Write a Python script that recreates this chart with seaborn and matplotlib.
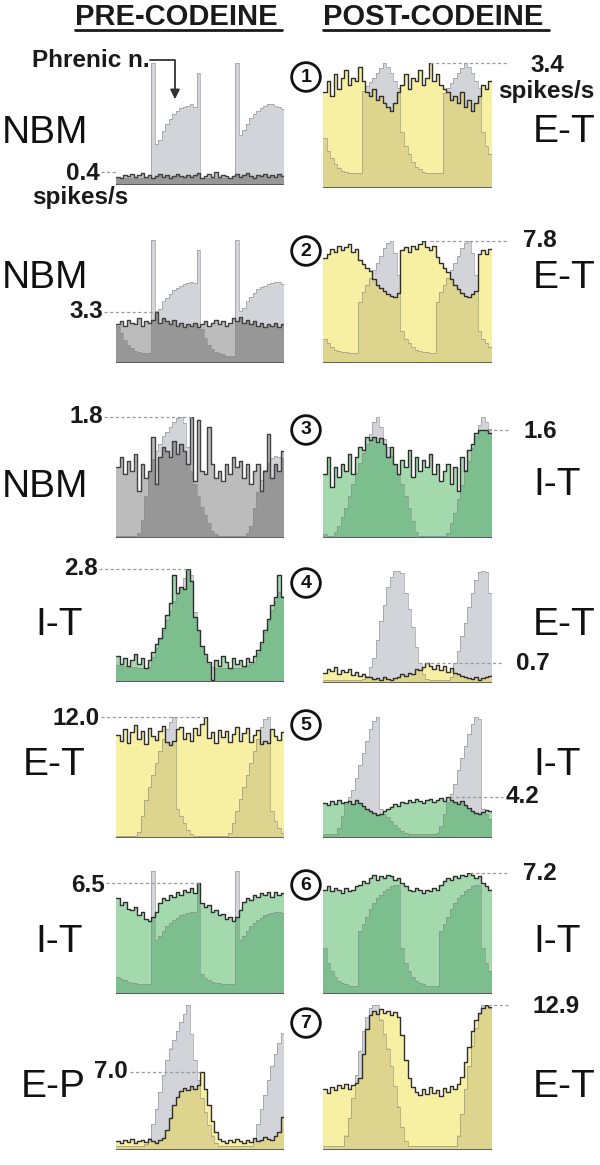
import numpy as np
import pandas as pd
import seaborn as sns
import matplotlib.pyplot as plt
from matplotlib.lines import Line2D

sns.set_theme(style="white")
plt.rcParams["font.family"] = ["Liberation Sans", "DejaVu Sans"]

W, H = 600, 1165
NBINS = 48

# cycle-triggered histograms, 48 bins each
# unit = neuron rate (spikes/s), phr = phrenic envelope (% of panel height)
pre1_unit = [0.25, 0.22, 0.3, 0.27, 0.33, 0.24, 0.3, 0.36, 0.26, 0.31, 0.22, 0.28,
             0.34, 0.25, 0.3, 0.21, 0.27, 0.35, 0.29, 0.24, 0.32, 0.26, 0.3, 0.37,
             0.23, 0.28, 0.33, 0.26, 0.4, 0.24, 0.31, 0.27, 0.22, 0.29, 0.34, 0.25,
             0.3, 0.36, 0.27, 0.23, 0.31, 0.28, 0.35, 0.26, 0.3, 0.24, 0.33, 0.29]
pre1_phr = [6, 6, 6, 6, 6, 6, 6, 6, 6, 6, 100,
            34, 37, 44, 50, 54, 58, 61, 63, 64, 65, 66, 64, 92,
            6, 6, 6, 6, 6, 6, 6, 6, 6, 6, 100,
            41, 45, 50, 55, 58, 61, 63, 65, 66, 66, 65, 64, 62]

post1_unit = [2.6, 2.9, 2.5, 3.1, 2.7, 3.0, 3.2, 2.8, 3.0, 2.9, 3.3,
              2.9, 2.6, 2.5, 2.7, 2.4, 2.5, 2.3, 2.2, 2.1, 2.3, 2.6,
              2.8, 3.1, 2.7, 3.0, 2.9, 3.2, 2.8, 3.0, 3.4, 2.9, 3.1, 2.8, 2.7,
              2.6, 2.4, 2.5, 2.3, 2.6, 2.2, 2.4, 2.1, 2.3, 2.5,
              2.8, 2.7, 2.9]
post1_phr = [40, 30, 24, 19, 16, 14, 13, 12, 12, 12, 12,
             78, 82, 85, 88, 92, 96, 100, 97, 92, 86, 80,
             45, 34, 27, 21, 17, 15, 13, 12, 12, 12, 12, 12,
             76, 80, 84, 88, 92, 96, 100, 97, 92, 86, 80,
             45, 34, 27]

pre2_unit = [2.5, 2.7, 2.4, 2.8, 2.6, 2.5, 2.9, 2.4, 2.7, 2.6, 2.8, 3.3,
             2.6, 2.9, 2.7, 2.5, 2.8, 2.4, 2.6, 2.3, 2.5, 2.4, 2.6, 2.3,
             2.5, 2.7, 2.4, 2.6, 2.8, 2.5, 2.7, 2.4, 2.6, 2.9, 2.7, 3.0,
             2.6, 2.8, 2.5, 2.7, 2.4, 2.6, 2.3, 2.5, 2.4, 2.6, 2.3, 2.5]
pre2_phr = [30, 24, 19, 15, 12, 10, 9, 8, 8, 8, 100,
            42, 44, 50, 53, 56, 59, 61, 63, 64, 65, 66, 65, 92,
            28, 20, 15, 11, 9, 8, 7, 6, 6, 6, 100,
            42, 45, 50, 54, 57, 60, 62, 63, 64, 65, 66, 66, 64]

post2_unit = [6.7, 7.0, 7.3, 7.1, 7.5, 7.2, 7.4, 7.6, 7.1, 7.3,
              6.6, 6.3, 6.1, 5.9, 5.4, 5.0, 4.8, 4.6, 4.4, 4.3, 4.2, 4.5,
              7.2, 7.4, 7.1, 7.5, 7.3, 7.6, 7.8, 7.4, 7.2, 7.5,
              6.8, 6.4, 6.1, 5.8, 5.4, 5.0, 4.7, 4.5, 4.3, 4.2, 4.4, 4.6,
              7.0, 7.2, 7.0, 7.3]
post2_phr = [20, 16, 13, 11, 10, 9, 9, 8, 8, 8,
             50, 58, 64, 70, 76, 82, 88, 94, 98, 100, 90, 72,
             26, 20, 16, 13, 11, 10, 9, 9, 8, 8,
             50, 58, 64, 70, 76, 82, 88, 94, 98, 100, 90, 72,
             26, 20, 16, 13]

pre3_unit = [1.05, 1.2, 0.95, 1.15, 1.0, 1.25, 0.7, 1.1, 0.9, 1.0, 1.5, 0.8,
             1.2, 1.35, 1.3, 1.2, 1.45, 1.25, 1.4, 1.3, 1.1, 1.8, 0.85, 1.75,
             1.0, 0.95, 1.65, 1.1, 0.9, 1.0, 0.85, 1.1, 0.95, 1.2, 1.05, 1.15,
             0.9, 1.1, 0.8, 1.0, 1.1, 0.7, 1.0, 1.55, 0.9, 1.1, 1.0, 1.3]
pre3_phr = [2, 2, 2, 2, 2, 2, 4,
            15, 35, 55, 65, 72, 78, 84, 88, 92, 96, 99, 100, 95,
            75, 55, 45, 35, 26, 19, 12, 6, 3,
            2, 2, 2, 2, 2, 2, 2, 2, 4,
            10, 25, 38, 48, 56, 62, 66, 68, 67, 66]

post3_unit = [0.95, 1.2, 0.75, 1.05, 0.9, 1.1, 1.0, 1.25, 0.95, 1.2,
              1.35, 1.3, 1.5, 1.45, 1.5, 1.42, 1.48, 1.4,
              1.2, 1.35, 1.1, 0.95, 1.15, 1.05, 1.3, 0.9, 1.2, 1.0, 1.15, 1.05,
              1.25, 0.95, 1.1, 0.85,
              1.0, 1.1, 0.8, 1.05, 0.7, 1.2, 1.0, 1.3,
              1.4, 1.55, 1.6, 1.6, 1.6, 1.55]
post3_phr = [3, 2, 2,
             5, 10, 17, 25, 35, 45, 54, 62, 70, 78, 86,
             96, 100, 92,
             82, 75, 68, 60, 52, 45, 35, 25, 14, 5,
             2, 2, 2, 2, 2, 2, 2, 2, 4,
             12, 21, 32, 44, 56, 64, 74, 84, 93, 100, 96, 90]

pre4_unit = [0.65, 0.45, 0.6, 0.4, 0.55, 0.7, 0.45, 0.6, 0.35, 0.55,
             0.75, 0.95, 1.1, 1.35, 1.65, 1.95, 2.65, 2.2, 2.35, 2.3, 2.8, 2.5,
             1.6, 1.3, 0.9, 0.7, 0.5, 0.05,
             0.55, 0.4, 0.65, 0.5, 0.35, 0.6, 0.45, 0.55, 0.4, 0.6, 0.5, 0.65,
             0.8, 1.0, 1.3, 1.55, 1.9, 2.1, 2.65, 2.1]
pre4_phr = [15, 14, 14, 13, 13, 13, 12, 12, 12, 13,
            22, 30, 38, 46, 55, 63, 72, 78, 84, 92, 100, 95,
            62, 46, 32, 22, 16, 13,
            12, 12, 12, 12, 12, 12, 12, 12, 13, 14, 16, 18,
            26, 34, 44, 54, 64, 72, 80, 76]

post4_unit = [0.35, 0.5, 0.42, 0.55, 0.3, 0.45, 0.38, 0.5, 0.28, 0.4,
              0.25, 0.3, 0.2, 0.22, 0.15, 0.18, 0.12, 0.2, 0.15, 0.1, 0.18,
              0.2, 0.3, 0.25, 0.35, 0.3, 0.5, 0.45,
              0.55, 0.7, 0.6, 0.5, 0.62, 0.45, 0.58, 0.4, 0.52, 0.35, 0.3, 0.25, 0.2,
              0.18, 0.15, 0.2, 0.12, 0.18, 0.22, 0.25]
post4_phr = [3, 3, 3, 3, 3, 3, 3, 3, 3, 3, 3, 4, 6,
             14, 22, 38, 55, 70, 86, 95, 100, 100, 98,
             80, 66, 50, 32, 18, 8,
             4, 3, 3, 3, 3, 3, 3, 5,
             18, 29, 42, 54, 68, 80, 92, 99, 100, 99, 80]

pre5_unit = [10.2, 9.6, 10.8, 9.4, 10.5, 11.2, 9.8, 10.6, 9.3, 10.9, 10.1, 9.7,
             10.6, 11.1, 9.5, 9.2, 9.6, 10.8, 11.0, 9.8, 10.4, 9.6, 10.9, 10.2,
             11.3, 12.0, 9.9, 10.5, 9.4, 10.7, 10.0, 10.6, 9.5, 10.3, 11.0, 9.6,
             10.4, 10.9, 9.5, 10.2, 10.7, 9.3, 9.6, 9.4, 10.8, 10.1, 9.7, 10.5]
pre5_phr = [2, 2, 2, 2, 2, 2,
            5, 18, 31, 42, 52, 62, 72, 82, 90, 96, 100,
            24, 18, 12, 7, 3,
            2, 2, 2, 2, 2, 2, 2, 2, 2, 2, 4,
            12, 22, 32, 42, 52, 62, 72, 82, 92, 98, 100,
            22, 14, 8, 4]

post5_unit = [3.6, 3.4, 3.8, 3.5, 3.9, 3.6, 3.7,
              3.8, 3.5, 3.9, 3.6, 3.3, 3.0, 2.8, 2.6, 2.4,
              2.5, 2.8, 3.0, 3.2, 3.5, 3.3, 3.7,
              3.6, 3.9, 3.7, 4.0, 3.8, 3.6, 3.9, 4.0, 3.7, 3.9, 4.1, 3.8, 4.2, 3.9,
              3.7, 3.5, 3.8, 3.4, 3.1, 2.8, 2.6, 2.5,
              2.7, 2.9, 2.8]
post5_phr = [3, 3, 3, 3,
             8, 18, 28, 34, 40, 50, 60, 70, 80, 90, 97, 100,
             24, 20, 17, 14, 11, 8, 6, 4, 3, 3,
             3, 3, 3, 3, 3, 3, 4,
             10, 20, 30, 36, 45, 56, 66, 76, 86, 94, 100, 98,
             24, 20, 16]

pre6_unit = [5.6, 5.2, 5.4, 5.0, 4.9, 5.1, 4.6, 4.8, 4.4, 4.3,
             4.5, 4.8, 5.3, 5.6, 5.5, 5.8, 5.7, 6.0, 5.8, 6.1, 6.0, 6.2, 5.9,
             6.5,
             5.3, 5.1, 5.2, 4.8, 4.9, 4.6, 4.7, 4.4, 4.5, 4.3,
             4.5, 4.9, 5.4, 5.6, 5.5, 5.8, 5.7, 5.9, 5.8, 6.0, 5.7, 6.0, 5.8, 5.9]
pre6_phr = [14, 12, 11, 10, 9, 9, 8, 8, 8, 8, 100,
            44, 47, 51, 55, 58, 60, 62, 64, 65, 66, 67, 67, 90,
            16, 13, 11, 10, 9, 9, 8, 8, 8, 8, 100,
            44, 47, 51, 55, 58, 60, 62, 64, 65, 66, 67, 67, 66]

post6_unit = [6.2, 6.4, 6.1, 6.3, 6.2, 6.0, 6.3, 6.1, 6.2, 6.4,
              6.5, 6.7, 6.6, 6.9, 7.1, 6.8, 7.0, 6.9, 7.1, 7.0, 6.8, 6.9,
              6.6, 6.4, 6.2, 6.1, 6.3, 6.2, 6.0, 6.2, 6.1, 6.3, 6.2,
              6.5, 6.7, 6.9, 6.8, 7.0, 6.9, 7.1, 7.0, 7.2, 7.1, 6.9, 7.0,
              6.6, 6.4, 6.2]
post6_phr = [38, 26, 19, 14, 11, 9, 8, 7, 7, 7,
             52, 58, 64, 70, 75, 79, 82, 85, 87, 89, 90, 90,
             38, 26, 19, 14, 11, 9, 8, 7, 7, 7, 7,
             52, 58, 64, 70, 75, 79, 82, 85, 87, 89, 90, 90,
             38, 26, 19]

pre7_unit = [0.8, 0.6, 0.9, 0.7, 1.0, 0.6, 0.8, 0.9, 0.7, 1.0, 0.8, 0.6, 0.9, 1.1,
             1.8, 2.9, 4.0, 4.8, 5.3, 5.6,
             5.4, 5.7, 5.5, 5.8, 7.0,
             5.5, 4.0, 2.6, 1.6, 1.0,
             0.8, 0.6, 0.9, 0.7, 1.0, 0.8, 0.6, 0.9, 0.7, 1.1, 0.8, 0.9, 1.2, 1.0,
             0.9, 1.3, 1.6,
             3.0]
pre7_phr = [3, 3, 3, 3, 3, 3, 3, 3, 4,
            8, 18, 28, 40, 52, 62, 70, 76, 82, 88, 94, 100,
            80, 62, 48, 36, 26, 17, 10, 5,
            3, 3, 3, 3, 3, 3, 3, 3, 3, 3,
            8, 18, 28, 38, 48, 58, 66, 74, 81]

post7_unit = [5.4, 5.1, 5.6, 5.3, 5.8, 5.5, 5.9, 5.4, 5.8, 6.0, 6.4,
              8.5, 10.8, 12.0,
              12.4, 12.1, 12.5, 12.2, 12.4, 12.0, 12.3, 11.8,
              10.2, 8.0, 6.4, 5.6,
              5.2, 4.9, 5.4, 5.0, 5.6, 5.1, 5.3, 4.8, 5.5, 5.2, 5.7, 5.4, 5.9,
              6.5, 7.8, 9.2, 10.6, 11.6, 12.2,
              12.6, 12.9, 12.7]
post7_phr = [3, 3, 3, 3, 3, 3,
             10, 22, 36, 52, 68, 82, 92, 98, 100, 100,
             90, 80, 70, 58, 44, 30, 16, 6,
             3, 3, 3, 3, 3, 3, 3, 3, 3, 3, 3, 3, 3, 3,
             10, 25, 42, 58, 72, 84, 94, 100, 100, 98]

left_names = ["NBM", "NBM", "NBM", "I-T", "E-T", "I-T", "E-P"]
right_names = ["E-T", "E-T", "I-T", "E-T", "I-T", "I-T", "E-T"]
pre_peaks = ["0.4", "3.3", "1.8", "2.8", "12.0", "6.5", "7.0"]
post_peaks = ["3.4", "7.8", "1.6", "0.7", "4.2", "7.2", "12.9"]

PALETTE = {
    "gray": ("#bcbcbc", "#979797", "#404040"),
    "yellow": ("#f7f0a2", "#ddd58d", "#2e2e2e"),
    "green": ("#a3d9ad", "#7dbe8e", "#2e2e2e"),
}
PHR_FILL = "#d3d4d9"
PHR_EDGE = "#8c8c8c"

# panel boxes in pixels: x0, x1, y_bottom, y_top, y of the labelled peak
LX, RX = (116, 284), (323, 492)
panels = [
    (pre1_unit, pre1_phr, "gray", LX, 185, 63, 0.4, 172),
    (post1_unit, post1_phr, "yellow", RX, 188, 63, 3.4, 63),
    (pre2_unit, pre2_phr, "gray", LX, 363, 240, 3.3, 312),
    (post2_unit, post2_phr, "yellow", RX, 363, 241, 7.8, 241),
    (pre3_unit, pre3_phr, "gray", LX, 538, 417, 1.8, 417),
    (post3_unit, post3_phr, "green", RX, 538, 417, 1.6, 430),
    (pre4_unit, pre4_phr, "green", LX, 682, 569, 2.8, 569),
    (post4_unit, post4_phr, "yellow", RX, 683, 571, 0.7, 663),
    (pre5_unit, pre5_phr, "yellow", LX, 838, 717, 12.0, 717),
    (post5_unit, post5_phr, "green", RX, 838, 717, 4.2, 797),
    (pre6_unit, pre6_phr, "green", LX, 994, 871, 6.5, 883),
    (post6_unit, post6_phr, "green", RX, 994, 873, 7.2, 873),
    (pre7_unit, pre7_phr, "yellow", LX, 1150, 1005, 7.0, 1072),
    (post7_unit, post7_phr, "yellow", RX, 1150, 1005, 12.9, 1005),
]


def draw_panel(ax, unit, phr, kind, ytop):
    light, dark, edge = PALETTE[kind]
    unit = np.asarray(unit, float)
    phr = np.asarray(phr, float) / 100 * ytop
    df = pd.DataFrame({"t": np.arange(NBINS) + 0.5, "unit": unit, "phr": phr,
                       "both": np.minimum(unit, phr)})
    common = dict(data=df, x="t", binwidth=1, binrange=(0, NBINS), element="step", ax=ax)
    sns.histplot(weights="phr", fill=True, color=PHR_FILL, alpha=1, linewidth=0, **common)
    sns.histplot(weights="unit", fill=True, color=light, alpha=1, linewidth=0, **common)
    sns.histplot(weights="both", fill=True, color=dark, alpha=1, linewidth=0, **common)
    sns.histplot(weights="phr", fill=False, color=PHR_EDGE, alpha=0.6, linewidth=0.7, **common)
    sns.histplot(weights="unit", fill=False, color=edge, linewidth=1.0, **common)
    ax.axhline(0, color="#555555", lw=1.3)
    ax.set_xlim(0, NBINS)
    ax.set_ylim(0, ytop)
    ax.set_axis_off()


fig = plt.figure(figsize=(W / 100, H / 100), dpi=100)

for unit, phr, kind, (x0, x1), yb, yt, peak, ypk in panels:
    assert len(unit) == NBINS and len(phr) == NBINS, (kind, len(unit), len(phr))
    ax = fig.add_axes([x0 / W, 1 - yb / H, (x1 - x0) / W, (yb - yt) / H])
    ytop = peak * (yb - yt) / (yb - ypk)
    draw_panel(ax, unit, phr, kind, ytop)

# overlay in pixel coordinates for all annotations
ov = fig.add_axes([0, 0, 1, 1])
ov.set_xlim(0, W)
ov.set_ylim(H, 0)
ov.set_axis_off()
ov.patch.set_visible(False)

bold = dict(fontweight="bold", color="#1a1a1a")
ov.text(75, 25, "PRE-CODEINE", fontsize=21, ha="left", va="baseline", **bold)
ov.text(323, 25, "POST-CODEINE", fontsize=21, ha="left", va="baseline", **bold)
ov.add_line(Line2D([75, 282], [30, 30], color="#1a1a1a", lw=2))
ov.add_line(Line2D([323, 549], [30, 30], color="#1a1a1a", lw=2))

ov.text(32, 67, "Phrenic n.", fontsize=17.5, ha="left", va="baseline", **bold)
ov.add_line(Line2D([150, 175, 175], [60, 60, 90], color="#333333", lw=1.3))
ov.annotate("", xy=(175, 102), xytext=(175, 88),
            arrowprops=dict(arrowstyle="-|>", color="#333333", lw=1.3, mutation_scale=14))

# row names
left_base = [143, 288, 497, 635, 775, 952, 1097]
left_edge = [88, 88, 88, 83, 85, 83, 86]
right_base = [142, 288, 495, 635, 775, 952, 1097]
for i in range(7):
    ov.text(left_edge[i], left_base[i], left_names[i], fontsize=28, ha="right",
            va="baseline", color="#111111")
    ov.text(533, right_base[i], right_names[i], fontsize=28, ha="left",
            va="baseline", color="#111111")

# peak rates: (x, baseline, ha) for the text and the dashed leader (x0, x1, y)
pre_txt = [(100, 180, "right"), (103, 318, "right"), (103, 423, "right"),
           (98, 575, "right"), (100, 725, "right"), (105, 892, "right"),
           (128, 1078, "right")]
pre_lead = [(101, 116, 172), (104, 155, 312), (104, 192, 417), (99, 190, 569),
            (101, 205, 717), (106, 200, 883), (130, 200, 1072)]
post_txt = [(547, 72, "center"), (540, 247, "center"), (540, 438, "center"),
            (533, 670, "center"), (522, 803, "center"), (540, 880, "center"),
            (532, 1013, "left")]
post_lead = [(430, 508, 63), (430, 508, 241), (488, 508, 430), (425, 503, 663),
             (450, 503, 797), (470, 508, 873), (488, 510, 1005)]

for txt, lead, labels in ((pre_txt, pre_lead, pre_peaks), (post_txt, post_lead, post_peaks)):
    for (tx, ty, ha), (lx0, lx1, ly), lab in zip(txt, lead, labels):
        ov.text(tx, ty, lab, fontsize=17.5, ha=ha, va="baseline", **bold)
        ov.add_line(Line2D([lx0, lx1], [ly, ly], color="#9a9a9a", lw=0.9,
                           dashes=(2.5, 2)))

ov.text(80, 204, "spikes/s", fontsize=17.5, ha="center", va="baseline", **bold)
ov.text(546, 98, "spikes/s", fontsize=17.5, ha="center", va="baseline", **bold)

# circled panel numbers
circle_y = [77, 251, 430, 583, 725, 885, 1023]
for i, cy in enumerate(circle_y):
    ov.text(306, cy, str(i + 1), fontsize=14, ha="center", va="center",
            fontweight="bold", color="#111111",
            bbox=dict(boxstyle="circle,pad=0.3", fc="white", ec="#111111", lw=2))

fig.savefig("out.png", dpi=100)
plt.close(fig)
